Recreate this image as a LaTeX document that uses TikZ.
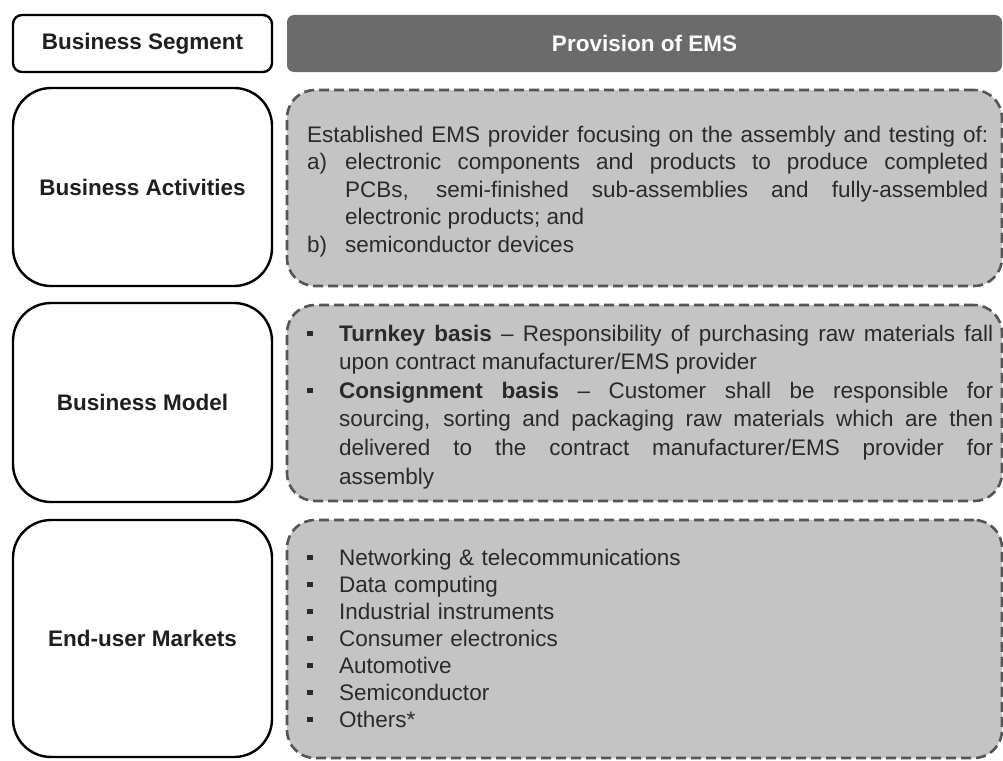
\documentclass[tikz,border=0pt]{standalone}
\usepackage{fontspec}
\setmainfont{Liberation Sans}
\definecolor{headgray}{HTML}{6B6B6B}
\definecolor{panelgray}{HTML}{C4C4C4}
\definecolor{dashgray}{HTML}{555555}
\definecolor{textgray}{HTML}{2A2A2A}
\newcommand{\sqbullet}{\makebox[32pt][l]{\raisebox{0.22em}{\rule{5.5pt}{5.5pt}}}}
\newcommand{\enumlabel}[1]{\makebox[38pt][l]{#1}}
\begin{document}
\begin{tikzpicture}[x=1pt,y=-1pt,
  segbox/.style={draw=black, line width=2.4pt, rounded corners=9pt, fill=white,
    inner sep=0pt, text=black!88, font=\bfseries\fontsize{22.5}{27}\selectfont},
  labelbox/.style={segbox, rounded corners=38pt},
  headbar/.style={fill=headgray, rounded corners=7pt, inner sep=0pt, text=white,
    font=\bfseries\fontsize{22.5}{27}\selectfont},
  infobox/.style={draw=dashgray, fill=panelgray, line width=2.6pt,
    dash pattern=on 10pt off 5pt, rounded corners=28pt, inner sep=0pt},
  infotext/.style={anchor=base west, inner sep=0pt, align=justify, text=textgray},
]
\useasboundingbox (0,0) rectangle (1003,760);

% header row
\node[segbox, minimum width=259pt, minimum height=57pt] (seg) at (142.5,43.5) {Business Segment};
\node[headbar, minimum width=715pt, minimum height=57pt] (head) at (644.5,43.5) {Provision of EMS};

% row labels
\node[labelbox, minimum width=259pt, minimum height=198pt] (act) at (142.5,187) {Business Activities};
\node[labelbox, minimum width=259pt, minimum height=199pt] (model) at (142.5,402.5) {Business Model};
\node[labelbox, minimum width=259pt, minimum height=237pt] (market) at (142.5,638.5) {End-user Markets};

% dashed content panels
\node[infobox, minimum width=715pt, minimum height=196pt] (actpanel) at (644.5,188) {};
\node[infobox, minimum width=715pt, minimum height=196pt] (modelpanel) at (644.5,403) {};
\node[infobox, minimum width=715pt, minimum height=238pt] (marketpanel) at (644.5,639) {};

% panel texts
\node[infotext, text width=681pt, font=\fontsize{22.5}{27.5}\selectfont] (acttext) at (307,142) {%
{\parfillskip=0pt Established EMS provider focusing on the assembly and testing of:\par}
{\hangindent=38pt\hangafter=1\noindent\enumlabel{a)}electronic components and products to produce completed\linebreak
PCBs, semi-finished sub-assemblies and fully-assembled\linebreak
electronic products; and\par}
{\hangindent=38pt\hangafter=1\noindent\enumlabel{b)}semiconductor devices\par}};

\node[infotext, text width=686pt, font=\fontsize{22.5}{28.6}\selectfont] (modeltext) at (307,341) {%
{\hangindent=32pt\hangafter=1\noindent\sqbullet\textbf{Turnkey basis} -- Responsibility of purchasing raw materials fall\linebreak
upon contract manufacturer/EMS provider\par}
{\hangindent=32pt\hangafter=1\noindent\sqbullet\textbf{Consignment basis} -- Customer shall be responsible for\linebreak
sourcing, sorting and packaging raw materials which are then\linebreak
delivered to the contract manufacturer/EMS provider for\linebreak
assembly\par}};

\node[infotext, text width=686pt, align=left, font=\fontsize{22.5}{27}\selectfont] (markettext) at (307,565) {%
\sqbullet Networking \& telecommunications\\
\sqbullet Data computing\\
\sqbullet Industrial instruments\\
\sqbullet Consumer electronics\\
\sqbullet Automotive\\
\sqbullet Semiconductor\\
\sqbullet Others*};
\end{tikzpicture}
\end{document}
